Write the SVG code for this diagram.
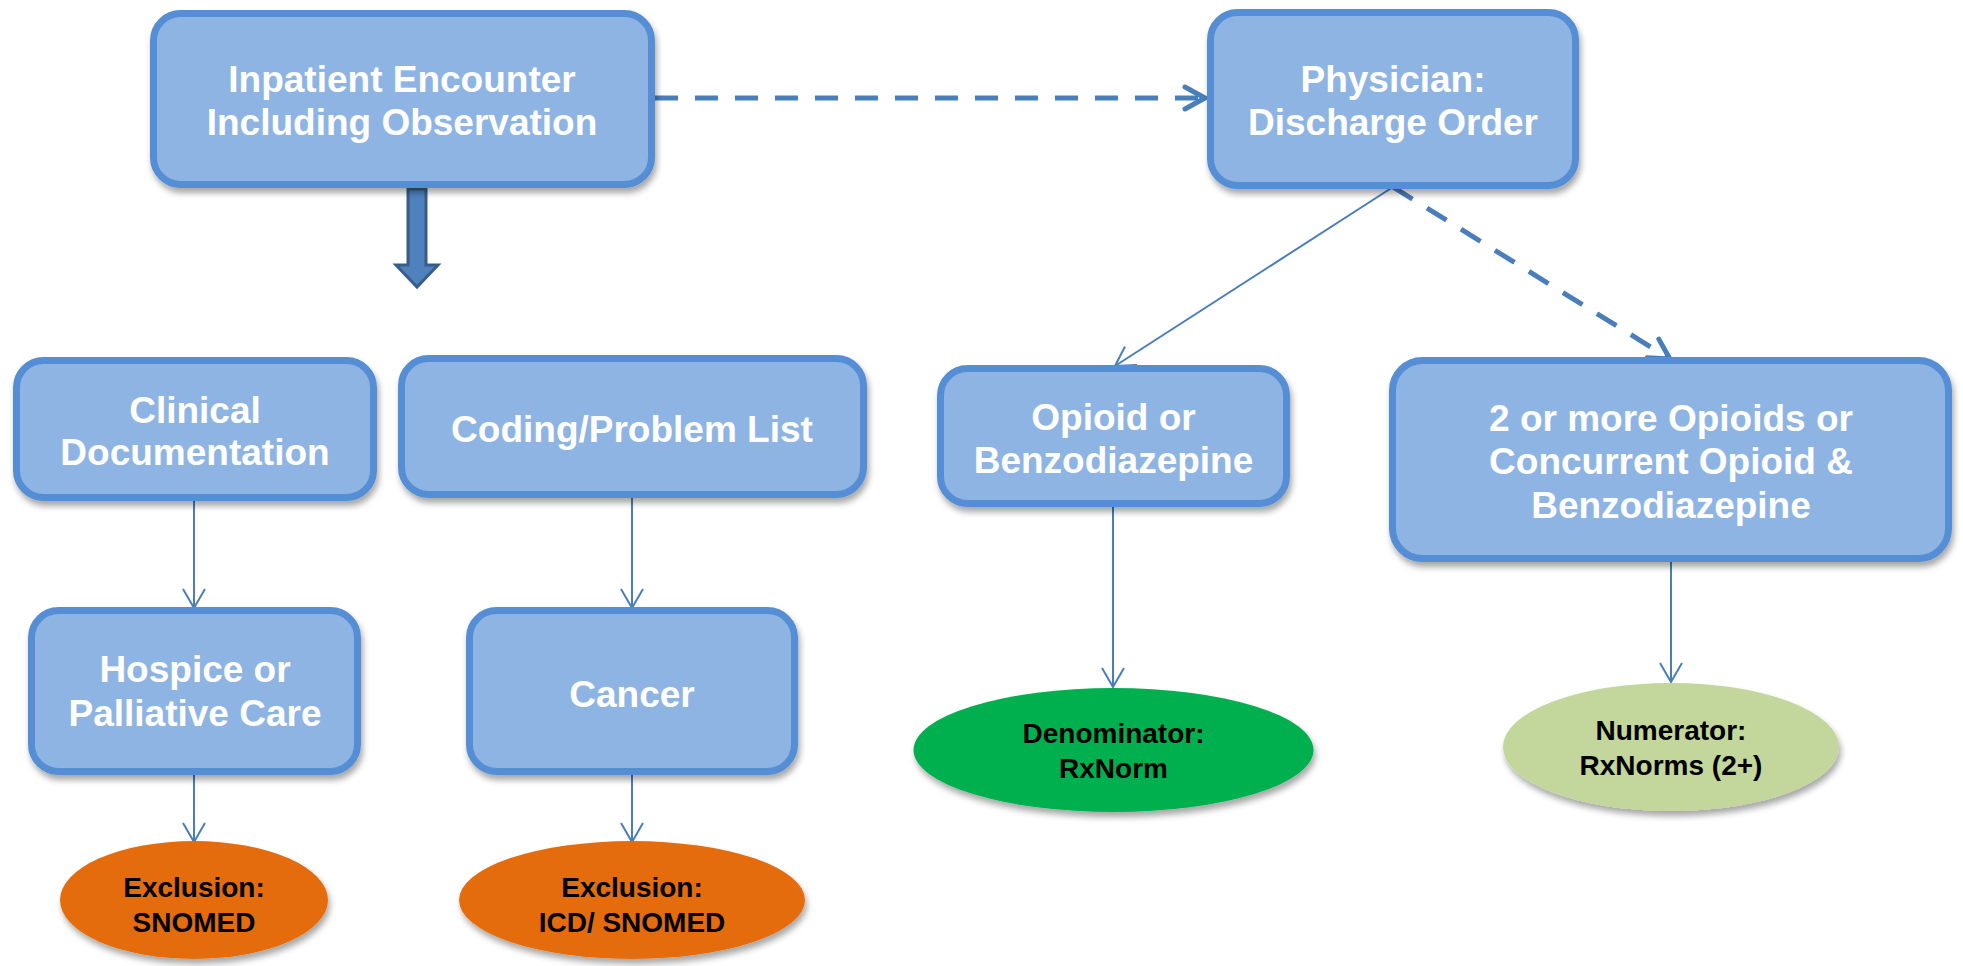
<svg xmlns="http://www.w3.org/2000/svg" width="1963" height="966" viewBox="0 0 1963 966">
  <defs>
    <filter id="shadow" x="-10%" y="-10%" width="120%" height="130%">
      <feDropShadow dx="2" dy="5" stdDeviation="3" flood-color="#000" flood-opacity="0.35"/>
    </filter>
    <marker id="chevThick" markerUnits="userSpaceOnUse" viewBox="-26 -15 30 30" refX="0" refY="0" markerWidth="30" markerHeight="30" orient="auto" overflow="visible">
      <path d="M-20,-11 L0,0 L-20,11" fill="none" stroke="#4A7EBB" stroke-width="5" stroke-dasharray="none" stroke-linecap="round" stroke-linejoin="miter"/>
    </marker>
    <marker id="chevThin" markerUnits="userSpaceOnUse" viewBox="-22 -14 26 28" refX="0" refY="0" markerWidth="26" markerHeight="28" orient="auto" overflow="visible">
      <path d="M-19,-11 L0,0 L-19,11" fill="none" stroke="#4A7EBB" stroke-width="2" stroke-dasharray="none"/>
    </marker>
    <style>
      .box { fill: #8EB4E3; stroke: #558ED5; stroke-width: 7; filter: url(#shadow); }
      .btxt { font-family: "Liberation Sans", Arial, sans-serif; font-weight: bold; font-size: 37px; fill: #FFFFFF; text-anchor: middle; }
      .etxt { font-family: "Liberation Sans", Arial, sans-serif; font-weight: bold; font-size: 28px; fill: #000000; text-anchor: middle; }
      .ell { filter: url(#shadow); }
      .thin { fill: none; stroke: #4A7EBB; stroke-width: 2; marker-end: url(#chevThin); }
      .dash { fill: none; stroke: #4A7EBB; stroke-width: 5; stroke-dasharray: 23 17; marker-end: url(#chevThick); }
    </style>
  </defs>
  <rect width="1963" height="966" fill="#FFFFFF"/>

  <g id="connectors">
    <polygon points="408,189 426,189 426,265 438,265 417,287 396,265 408,265" fill="#4F81BD" stroke="#385D8A" stroke-width="3" stroke-linejoin="miter"/>
    <line class="dash" x1="655" y1="98" x2="1205" y2="98"/>
    <line class="dash" x1="1393" y1="187" x2="1670" y2="359"/>
    <line class="thin" x1="1393" y1="187" x2="1115" y2="366"/>
    <line class="thin" x1="194" y1="501" x2="194" y2="608"/>
    <line class="thin" x1="632" y1="498" x2="632" y2="608"/>
    <line class="thin" x1="194" y1="775" x2="194" y2="842"/>
    <line class="thin" x1="632" y1="775" x2="632" y2="842"/>
    <line class="thin" x1="1113" y1="507" x2="1113" y2="687"/>
    <line class="thin" x1="1671" y1="562" x2="1671" y2="682"/>
  </g>

  <g id="node-inpatient">
    <rect class="box" x="153.5" y="13.5" width="498" height="171" rx="27"/>
    <text class="btxt" x="402" y="92">Inpatient Encounter</text>
    <text class="btxt" x="402" y="135">Including Observation</text>
  </g>

  <g id="node-physician">
    <rect class="box" x="1210.5" y="12.5" width="365" height="173" rx="27"/>
    <text class="btxt" x="1393" y="92">Physician:</text>
    <text class="btxt" x="1393" y="135">Discharge Order</text>
  </g>

  <g id="node-clinical">
    <rect class="box" x="16.5" y="360.5" width="357" height="137" rx="27"/>
    <text class="btxt" x="195" y="423">Clinical</text>
    <text class="btxt" x="195" y="465">Documentation</text>
  </g>

  <g id="node-coding">
    <rect class="box" x="401.5" y="358.5" width="462" height="136" rx="27"/>
    <text class="btxt" x="632" y="442">Coding/Problem List</text>
  </g>

  <g id="node-hospice">
    <rect class="box" x="31.5" y="610.5" width="326" height="161" rx="27"/>
    <text class="btxt" x="195" y="682">Hospice or</text>
    <text class="btxt" x="195" y="726">Palliative Care</text>
  </g>

  <g id="node-cancer">
    <rect class="box" x="469.5" y="610.5" width="325" height="161" rx="27"/>
    <text class="btxt" x="632" y="707">Cancer</text>
  </g>

  <g id="node-opioid">
    <rect class="box" x="940.5" y="368.5" width="346" height="135" rx="27"/>
    <text class="btxt" x="1113.5" y="430">Opioid or</text>
    <text class="btxt" x="1113.5" y="473">Benzodiazepine</text>
  </g>

  <g id="node-multiple">
    <rect class="box" x="1392.5" y="360.5" width="556" height="198" rx="30"/>
    <text class="btxt" x="1671" y="431">2 or more Opioids or</text>
    <text class="btxt" x="1671" y="474">Concurrent Opioid &amp;</text>
    <text class="btxt" x="1671" y="518">Benzodiazepine</text>
  </g>

  <g id="node-excl-snomed">
    <ellipse class="ell" cx="194" cy="900" rx="134" ry="59" fill="#E46C0A"/>
    <text class="etxt" x="194" y="897">Exclusion:</text>
    <text class="etxt" x="194" y="932">SNOMED</text>
  </g>

  <g id="node-excl-icd">
    <ellipse class="ell" cx="632" cy="900" rx="173" ry="59" fill="#E46C0A"/>
    <text class="etxt" x="632" y="897">Exclusion:</text>
    <text class="etxt" x="632" y="932">ICD/ SNOMED</text>
  </g>

  <g id="node-denominator">
    <ellipse class="ell" cx="1113.5" cy="750" rx="200" ry="62" fill="#00B050"/>
    <text class="etxt" x="1113.5" y="743">Denominator:</text>
    <text class="etxt" x="1113.5" y="778">RxNorm</text>
  </g>

  <g id="node-numerator">
    <ellipse class="ell" cx="1671" cy="747" rx="168" ry="64" fill="#C3D69B"/>
    <text class="etxt" x="1671" y="740">Numerator:</text>
    <text class="etxt" x="1671" y="775">RxNorms (2+)</text>
  </g>
</svg>
